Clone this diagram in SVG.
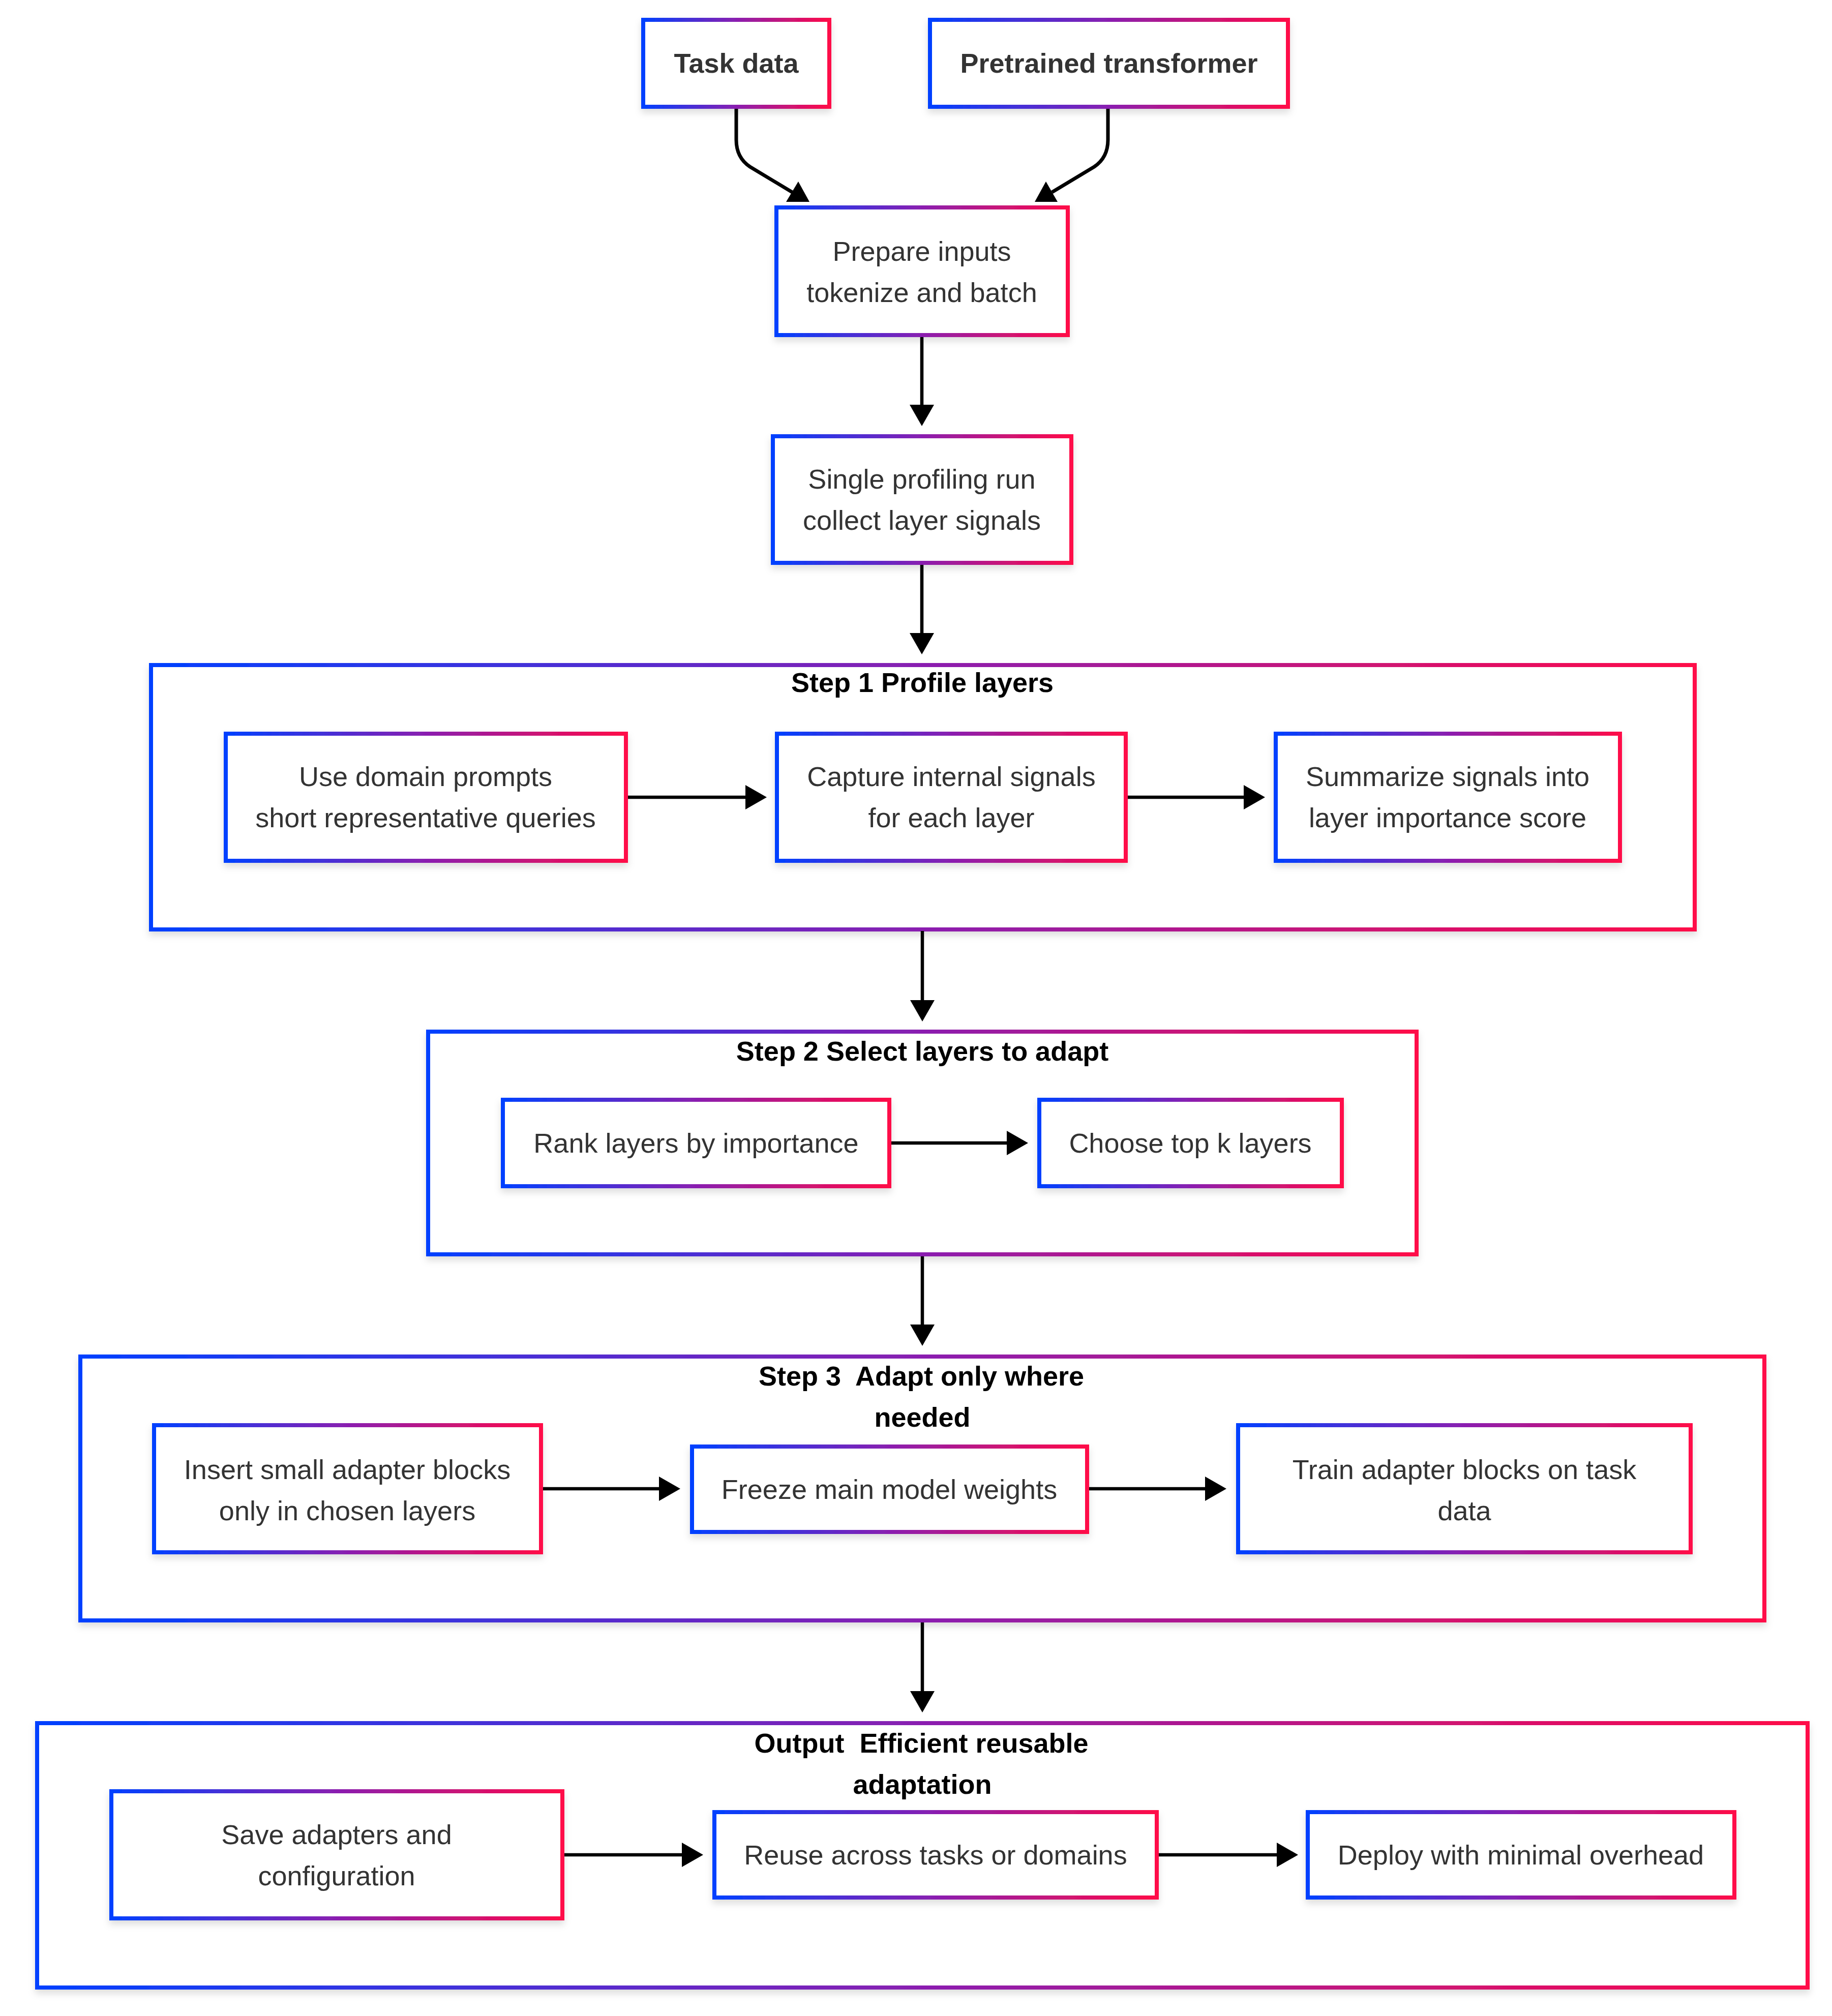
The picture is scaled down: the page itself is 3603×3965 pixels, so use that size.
<svg xmlns="http://www.w3.org/2000/svg" width="3603" height="3965" viewBox="0 0 3603 3965">
<defs>
<linearGradient id="g" x1="0" y1="0" x2="1" y2="0">
<stop offset="0" stop-color="#0040ff"/>
<stop offset="0.5" stop-color="#8a1fb0"/>
<stop offset="1" stop-color="#ff0a48"/>
</linearGradient>
<filter id="sh" x="-5%" y="-10%" width="110%" height="130%">
<feDropShadow dx="0" dy="8" stdDeviation="7" flood-color="#000" flood-opacity="0.13"/>
</filter>
<marker id="ah" markerUnits="userSpaceOnUse" markerWidth="42" markerHeight="48" refX="22" refY="24" orient="auto" viewBox="0 0 42 48">
<path d="M0,0 L42,24 L0,48 Z" fill="#000"/>
</marker>
</defs>
<style>
.box{fill:#fff;stroke:url(#g);stroke-width:8;filter:url(#sh)}
.grp{fill:#fff;stroke:url(#g);stroke-width:8;filter:url(#sh)}
.t{font-family:"Liberation Sans",Arial,sans-serif;font-size:54px;fill:#333;text-anchor:middle}
.b{font-family:"Liberation Sans",Arial,sans-serif;font-size:54px;font-weight:bold;fill:#333;text-anchor:middle}
.h{font-family:"Liberation Sans",Arial,sans-serif;font-size:54px;font-weight:bold;fill:#000;text-anchor:middle;white-space:pre}
.e{fill:none;stroke:#000;stroke-width:7}
.ea{fill:none;stroke:#000;stroke-width:6.5;marker-end:url(#ah)}
</style>
<rect width="3603" height="3965" fill="#fff"/>

<g id="step1">
<rect class="grp" x="297" y="1308" width="3036" height="520"/>
<text class="h" x="1814" y="1361">Step 1 Profile layers</text>
</g>
<g id="step2">
<rect class="grp" x="842" y="2029" width="1944" height="438"/>
<text class="h" x="1814" y="2086">Step 2 Select layers to adapt</text>
</g>
<g id="step3">
<rect class="grp" x="158" y="2668" width="3312" height="519"/>
<text class="h" x="1812" y="2725" xml:space="preserve">Step 3  Adapt only where</text>
<text class="h" x="1814" y="2806">needed</text>
</g>
<g id="output">
<rect class="grp" x="73" y="3389" width="3482" height="520"/>
<text class="h" x="1812" y="3447" xml:space="preserve">Output  Efficient reusable</text>
<text class="h" x="1814" y="3528">adaptation</text>
</g>

<g id="connectors">
<path class="e" d="M1448,214 L1448,275 Q1448,310 1475,328 L1558,378"/>
<polygon points="1570,357 1546,397 1592,397" fill="#000"/>
<path class="e" d="M2179,214 L2179,275 Q2179,310 2152,328 L2069,378"/>
<polygon points="2057,357 2035,397 2080,397" fill="#000"/>
<path class="ea" d="M1813,663 L1813,818"/>
<path class="ea" d="M1813,1111 L1813,1267"/>
<path class="ea" d="M1235,1568 L1488,1568"/>
<path class="ea" d="M2218,1568 L2468,1568"/>
<path class="ea" d="M1814,1831 L1814,1989"/>
<path class="ea" d="M1753,2248 L2002,2248"/>
<path class="ea" d="M1814,2471 L1814,2627"/>
<path class="ea" d="M1068,2928 L1318,2928"/>
<path class="ea" d="M2142,2928 L2392,2928"/>
<path class="ea" d="M1814,3191 L1814,3348"/>
<path class="ea" d="M1110,3648 L1363,3648"/>
<path class="ea" d="M2279,3648 L2533,3648"/>
</g>

<g id="task-data">
<rect class="box" x="1265" y="39" width="366" height="171"/>
<text class="b" x="1448" y="143">Task data</text>
</g>
<g id="pretrained">
<rect class="box" x="1829" y="39" width="704" height="171"/>
<text class="b" x="2181" y="143">Pretrained transformer</text>
</g>
<g id="prepare">
<rect class="box" x="1527" y="408" width="573" height="251"/>
<text class="t" x="1813" y="513">Prepare inputs</text>
<text class="t" x="1813" y="594">tokenize and batch</text>
</g>
<g id="profiling">
<rect class="box" x="1520" y="858" width="587" height="249"/>
<text class="t" x="1813" y="961">Single profiling run</text>
<text class="t" x="1813" y="1042">collect layer signals</text>
</g>
<g id="domain-prompts">
<rect class="box" x="444" y="1443" width="787" height="250"/>
<text class="t" x="837" y="1546">Use domain prompts</text>
<text class="t" x="837" y="1627">short representative queries</text>
</g>
<g id="capture">
<rect class="box" x="1528" y="1443" width="686" height="250"/>
<text class="t" x="1871" y="1546">Capture internal signals</text>
<text class="t" x="1871" y="1627">for each layer</text>
</g>
<g id="summarize">
<rect class="box" x="2509" y="1443" width="677" height="250"/>
<text class="t" x="2847" y="1546">Summarize signals into</text>
<text class="t" x="2847" y="1627">layer importance score</text>
</g>
<g id="rank">
<rect class="box" x="989" y="2163" width="760" height="170"/>
<text class="t" x="1369" y="2267">Rank layers by importance</text>
</g>
<g id="choose">
<rect class="box" x="2044" y="2163" width="595" height="170"/>
<text class="t" x="2341" y="2267">Choose top k layers</text>
</g>
<g id="insert">
<rect class="box" x="303" y="2803" width="761" height="250"/>
<text class="t" x="683" y="2909">Insert small adapter blocks</text>
<text class="t" x="683" y="2990">only in chosen layers</text>
</g>
<g id="freeze">
<rect class="box" x="1361" y="2845" width="777" height="168"/>
<text class="t" x="1749" y="2948">Freeze main model weights</text>
</g>
<g id="train">
<rect class="box" x="2435" y="2803" width="890" height="250"/>
<text class="t" x="2880" y="2909">Train adapter blocks on task</text>
<text class="t" x="2880" y="2990">data</text>
</g>
<g id="save">
<rect class="box" x="219" y="3523" width="887" height="250"/>
<text class="t" x="662" y="3627">Save adapters and</text>
<text class="t" x="662" y="3708">configuration</text>
</g>
<g id="reuse">
<rect class="box" x="1405" y="3564" width="870" height="168"/>
<text class="t" x="1840" y="3667">Reuse across tasks or domains</text>
</g>
<g id="deploy">
<rect class="box" x="2572" y="3564" width="839" height="168"/>
<text class="t" x="2991" y="3667">Deploy with minimal overhead</text>
</g>
</svg>
